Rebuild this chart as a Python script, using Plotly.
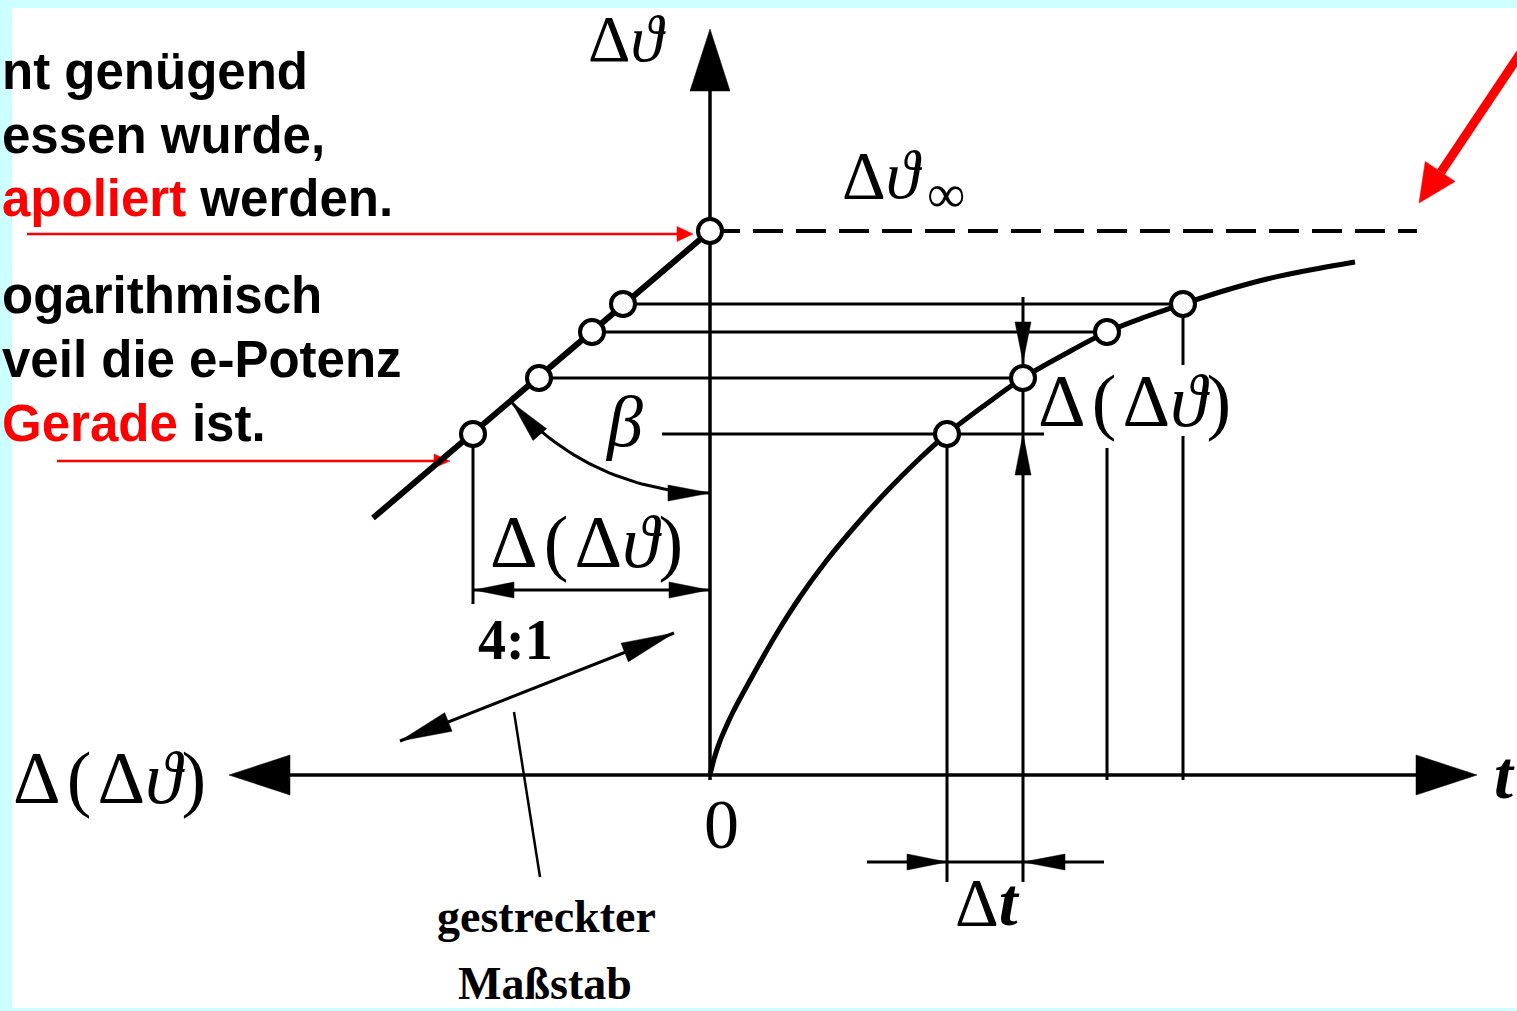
import numpy as np
import plotly.graph_objects as go

# ---------------- data (pixel-like diagram units) -------------
# points on the logarithmic straight line (left quadrant)
log_x = [473, 539, 592, 623, 710]
log_y = [434, 378, 332, 304, 231]
logline_x = [373, 710]
logline_y = [518, 231]

# measured heating curve (right quadrant)
curve_x = [710, 711, 714, 720, 726, 733, 753, 777, 800, 827, 857, 887, 917, 947, 985, 1023,
           1065, 1107, 1145, 1183, 1225, 1267, 1310, 1355]
curve_y = [775, 771, 759, 741, 727, 712, 675, 633, 597, 560, 524, 491, 461, 434, 405, 378,
           354, 332, 317, 304, 290.5, 279, 270, 262]
meas_x = [947, 1023, 1107, 1183]
meas_y = [434, 378, 332, 304]

# asymptote level and origin
asym_y = 231
orig_x, orig_y = 710, 775

# horizontal guide lines: (y, x_start, x_end)
guide_h = [(304, 623, 1183), (332, 592, 1107), (378, 539, 1023), (434, 662, 1044)]
# vertical guide lines: (x, y_start, y_end)
guide_v = [(473, 434, 604), (947, 434, 882), (1023, 297, 882), (1107, 448, 780),
           (1183, 304, 365), (1183, 436, 780)]

W, H = 1517, 1011
BLACK = "#000000"
RED = "#ff0000"

fig = go.Figure()
shapes = []


def seg(x0, y0, x1, y1, w=3, color=BLACK, dash=None):
    d = dict(type="line", xref="x", yref="y", x0=x0, y0=y0, x1=x1, y1=y1,
             line=dict(color=color, width=w), layer="below")
    if dash:
        d["line"]["dash"] = dash
    shapes.append(d)


def head(tx, ty, dx, dy, length, hw, color=BLACK):
    n = np.hypot(dx, dy)
    ux, uy = dx / n, dy / n
    bx, by = tx - ux * length, ty - uy * length
    px, py = -uy, ux
    p1 = (bx + px * hw, by + py * hw)
    p2 = (bx - px * hw, by - py * hw)
    path = f"M {tx},{ty} L {p1[0]},{p1[1]} L {p2[0]},{p2[1]} Z"
    shapes.append(dict(type="path", xref="x", yref="y", path=path,
                       fillcolor=color, line=dict(color=color, width=0.5), layer="below"))


# background: white sheet with light cyan border strips
shapes.append(dict(type="rect", xref="x", yref="y", x0=12, y0=8, x1=W + 5, y1=H - 3,
                   fillcolor="white", line=dict(width=0), layer="below"))

# axes
seg(orig_x, 88, orig_x, 780, w=3.5)
seg(288, orig_y, 1418, orig_y, w=3.5)
head(orig_x, 29, 0, -1, 62, 20)
head(229, orig_y, -1, 0, 61, 20)
head(1477, orig_y, 1, 0, 61, 20)

# asymptote dashed
seg(orig_x, asym_y, 1417, asym_y, w=4, dash="30px,13px")

# guides
for y, xa, xb in guide_h:
    seg(xa, y, xb, y, w=3)
for x, ya, yb in guide_v:
    seg(x, ya, x, yb, w=3)

# dimension: Δ(Δϑ) horizontal (left)
seg(474, 590, 709, 590, w=3)
head(474, 590, -1, 0, 40, 8)
head(709, 590, 1, 0, 40, 8)
# dimension: Δ(Δϑ) vertical (right)
head(1023, 362, 0, 1, 40, 8)
head(1023, 434, 0, -1, 41, 8)
# dimension: Δt
seg(867, 862, 1104, 862, w=3)
head(947, 862, 1, 0, 40, 8)
head(1023, 862, -1, 0, 42, 8)

# 4:1 double arrow and leader
seg(400, 741, 674, 633, w=3)
head(400, 741, -274, 108, 52, 10)
head(674, 633, 274, -108, 53, 10)
seg(514, 712, 540, 877, w=2.5)

# beta arc (centre at the intercept, radius to the line)
cx, cy, r = 710, 231, 262
th = np.radians(np.linspace(90, 139, 40))
fig.add_trace(go.Scatter(x=cx + r * np.cos(th), y=cy + r * np.sin(th), mode="lines",
                         line=dict(color=BLACK, width=3), hoverinfo="skip"))
t_end = np.radians(139)
head(cx + r * np.cos(t_end), cy + r * np.sin(t_end), -np.sin(t_end), np.cos(t_end), 42, 9)
head(cx, cy + r, 1, 0, 42, 8)

# red pointer arrows
seg(27, 234, 680, 234, w=2.5, color=RED)
head(693, 234, 1, 0, 16, 7.5, color=RED)
seg(57, 461, 437, 461, w=2.5, color=RED)
head(450, 461, 1, 0, 16, 7, color=RED)
seg(1560, -6, 1441, 172, w=9, color=RED)
head(1419, 203, -98, 146, 38, 18, color=RED)

# straight (logarithmic) line and measured curve
fig.add_trace(go.Scatter(x=logline_x, y=logline_y, mode="lines",
                         line=dict(color=BLACK, width=6), hoverinfo="skip"))
fig.add_trace(go.Scatter(x=curve_x, y=curve_y, mode="lines",
                         line=dict(color=BLACK, width=5, shape="spline", smoothing=1.0),
                         hoverinfo="skip"))
# points
fig.add_trace(go.Scatter(x=log_x + meas_x, y=log_y + meas_y, mode="markers",
                         marker=dict(symbol="circle", size=24, color="white",
                                     line=dict(color=BLACK, width=4)), hoverinfo="skip"))

# ---------------- texts ----------------
ann = []


def txt(x, y, s, size, fam="Liberation Serif", xa="center", ya="middle", color=BLACK, weight=None):
    f = dict(family=fam, size=size, color=color)
    if weight:
        f["weight"] = weight
    ann.append(dict(x=x, y=y, xref="x", yref="y", text=s, showarrow=False,
                    xanchor=xa, yanchor=ya, font=f))


sans = "Liberation Sans"
red = lambda s: f"<span style='color:{RED}'>{s}</span>"
left_lines = [(71, "nt genügend"), (135, "essen wurde,"),
              (198, red("apoliert") + " werden."), (295, "ogarithmisch"),
              (359, "veil die e-Potenz"), (423, red("Gerade") + " ist.")]
for yy, s in left_lines:
    txt(0, yy, s, 51, sans, xa="left", weight=700)

hs = "\u200a"
txt(627, 38, "Δ<i>ϑ</i>", 66)
txt(882, 175, "Δ<i>ϑ</i>", 68)
txt(946, 194, "∞", 54)
txt(624, 422, "<i>β</i>", 72)
txt(586, 542, f"Δ{hs}({hs}Δ<i>ϑ</i>)", 74)
txt(1134, 401, f"Δ{hs}({hs}Δ<i>ϑ</i>)", 74)
txt(109, 778, f"Δ{hs}({hs}Δ<i>ϑ</i>)", 74)
txt(721, 824, "0", 70)
txt(987, 902, "Δ<i><b>t</b></i>", 68)
txt(1517, 775, "<i><b>t</b></i>", 68, xa="right")
txt(515, 640, "4:1", 56, weight=700)
txt(546, 916, "gestreckter", 46, weight=700)
txt(545, 983, "Maßstab", 46, weight=700)

fig.update_layout(
    width=W, height=H, margin=dict(l=0, r=0, t=0, b=0),
    paper_bgcolor="#ccffff", plot_bgcolor="#ccffff",
    xaxis=dict(range=[0, W], visible=False, fixedrange=True),
    yaxis=dict(range=[H, 0], visible=False, fixedrange=True),
    showlegend=False, shapes=shapes, annotations=ann,
)
fig.write_html("out.html", config={"displayModeBar": False},
               post_script="document.body.style.margin='0';document.body.style.overflow='hidden';")
